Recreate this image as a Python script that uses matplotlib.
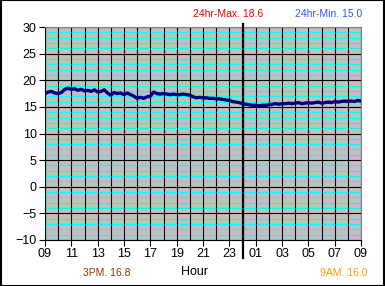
import matplotlib
matplotlib.use("Agg")
import matplotlib.pyplot as plt
import numpy as np

plt.rcParams["font.family"] = ["Liberation Sans", "DejaVu Sans"]

# temperatura a cada 15 minutos, das 09h ate as 09h do dia seguinte
temps = [
    17.5, 17.8, 17.9, 17.6,
    17.5, 17.7, 18.3, 18.5,
    18.3, 18.4, 18.1, 18.3,
    18.0, 18.1, 17.9, 18.2,
    17.8, 17.9, 18.2, 17.6,
    17.2, 17.7, 17.5, 17.6,
    17.3, 17.6, 17.3, 17.0,
    16.6, 16.8, 16.6, 16.9,
    17.0, 17.8, 17.5, 17.4,
    17.5, 17.4, 17.3, 17.4,
    17.3, 17.3, 17.4, 17.3,
    17.2, 16.9, 16.7, 16.8,
    16.7, 16.7, 16.6, 16.6,
    16.5, 16.5, 16.4, 16.3,
    16.2, 16.0, 15.9, 15.8,
    15.6, 15.5, 15.4, 15.3,
    15.3, 15.2, 15.3, 15.3,
    15.4, 15.5, 15.6, 15.5,
    15.6, 15.6, 15.7, 15.6,
    15.7, 15.8, 15.6, 15.7,
    15.8, 15.7, 15.8, 15.9,
    15.7, 15.8, 15.9, 15.8,
    16.0, 15.9, 16.0, 16.1,
    16.0, 16.1, 16.0, 16.2,
    16.1,
]
horas = np.arange(len(temps)) * 0.25

tick_labels = ["09", "11", "13", "15", "17", "19", "21", "23",
               "01", "03", "05", "07", "09"]
meia_noite = 15

max_txt = "24hr-Max. 18.6"
min_txt = "24hr-Min. 15.0"
pm_txt = "3PM. 16.8"
am_txt = "9AM. 16.0"

fig = plt.figure(figsize=(3.85, 2.86), dpi=100)
ax = fig.add_axes([45 / 385, 1 - 240 / 286, 316 / 385, 213 / 286])
ax.set_facecolor("#c0c0c0")

# linhas de grade
for v in range(-10, 31):
    if v % 5 == 0:
        ax.axhline(v, color="black", lw=0.8, zorder=1)
    else:
        ax.axhline(v, color="#00ffff", lw=0.8, zorder=1)
for h in range(0, 25):
    ax.axvline(h, color="black", lw=0.8, zorder=1)

ax.axvline(meia_noite, ymin=-0.085, ymax=1.014, color="black", lw=1.6,
           clip_on=False, zorder=3)

ax.plot(horas, temps, color="#000080", lw=2.4, zorder=4)

ax.set_xlim(0, 24)
ax.set_ylim(-10, 30)
ax.set_xticks(range(0, 25, 2))
ax.set_xticklabels(tick_labels)
ax.set_yticks(range(-10, 31, 5))
ax.tick_params(labelsize=9, length=4, width=0.8, color="black", pad=2)
for s in ax.spines.values():
    s.set_color("#808080")
    s.set_linewidth(0.8)
ax.spines["left"].set_color("black")
ax.spines["bottom"].set_color("black")

fig.text(195 / 385, 1 - 272 / 286, "Hour", ha="center", va="center", fontsize=9)
fig.text(107 / 385, 1 - 273 / 286, pm_txt, ha="center", va="center",
         fontsize=7.5, color="#993300")
fig.text(344 / 385, 1 - 273 / 286, am_txt, ha="center", va="center",
         fontsize=7.5, color="#ff9900")
fig.text(228 / 385, 1 - 14 / 286, max_txt, ha="center", va="center",
         fontsize=7.5, color="#ee0000")
fig.text(329 / 385, 1 - 14 / 286, min_txt, ha="center", va="center",
         fontsize=7.5, color="#3355ff")

# moldura da figura
fig.patches.append(plt.Rectangle((0.0013, 0.0017), 0.9974, 0.9966, transform=fig.transFigure,
                                 fill=False, edgecolor="black", lw=1.5))

fig.savefig("out.png", dpi=100)
